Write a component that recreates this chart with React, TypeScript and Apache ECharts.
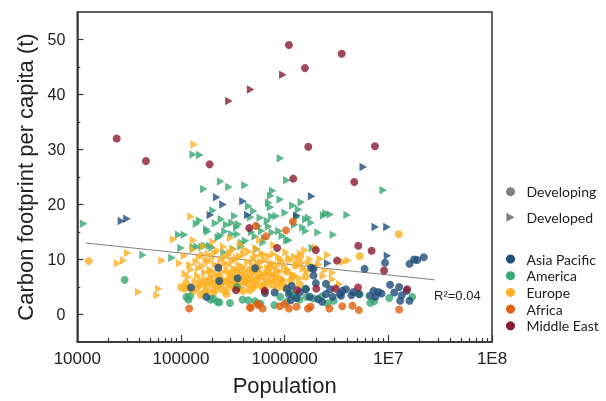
import React, { useEffect, useRef } from 'react';
import * as echarts from 'echarts';

// ---- data: [population, carbon footprint per capita (t)] ----
const europeDeveloped: [number, number][] = [
  [24500, 9.3], [28000, 9.8], [30600, 11.2], [39100, 4.1], [61000, 4.7], [58700, 3.5], [65600, 9.8], [85000, 13.7],
  [97000, 9.3], [108000, 10.7], [132000, 13.5], [125000, 17.8], [134000, 30.9],
  [110000, 7.4], [118000, 6.8], [125000, 8.2], [130000, 11.8], [140000, 9.6], [145000, 7.1], [150000, 10.4], [155000, 6.3],
  [160000, 8.8], [165000, 12.4], [170000, 7.7], [175000, 9.9], [180000, 5.6], [185000, 11.0], [190000, 8.1], [195000, 6.9],
  [200000, 10.2], [205000, 13.2], [210000, 7.4], [215000, 9.1], [220000, 5.9], [225000, 11.6], [232000, 8.5], [238000, 6.6],
  [245000, 10.0], [250000, 7.8], [258000, 12.3], [265000, 9.4], [272000, 6.2], [280000, 8.0], [288000, 10.8], [295000, 7.2],
  [302000, 5.4], [310000, 9.7], [318000, 11.9], [325000, 8.3], [335000, 6.8], [345000, 10.3], [355000, 7.5], [365000, 9.0],
  [375000, 12.8], [385000, 6.1], [395000, 8.7], [405000, 10.9], [415000, 7.0], [425000, 5.8], [440000, 9.5], [455000, 11.4],
  [470000, 8.2], [485000, 6.5], [500000, 10.1], [515000, 7.6], [530000, 12.0], [548000, 9.2], [565000, 6.9], [585000, 8.6],
  [605000, 11.1], [625000, 7.3], [645000, 9.9], [665000, 5.9], [690000, 8.4], [715000, 10.6], [740000, 7.1], [765000, 9.3],
  [790000, 12.6], [820000, 6.7], [850000, 8.9], [880000, 10.4], [910000, 7.8], [950000, 9.6], [990000, 6.3], [1030000, 11.3],
  [1080000, 8.1], [1130000, 9.8], [1190000, 7.2], [1250000, 10.5], [1320000, 8.8], [1400000, 6.6], [1480000, 9.4],
  [1570000, 11.7], [1660000, 7.9], [1760000, 10.0], [1880000, 8.5], [2000000, 12.2], [2150000, 9.1], [2350000, 7.0],
  [2600000, 10.8], [2900000, 6.4], [2900000, 7.6], [3400000, 5.5], [3700000, 9.6], [4100000, 9.8], [578000, 13.5],
  [300000, 13.9], [1420000, 11.1],
  [122000, 9.0], [137000, 6.0], [148000, 8.4], [162000, 10.9], [172000, 6.5], [183000, 9.5], [198000, 7.9], [212000, 11.2],
  [228000, 6.9], [242000, 8.9], [255000, 5.6], [268000, 10.5], [285000, 9.0], [298000, 11.3], [315000, 6.1], [330000, 9.9],
  [350000, 8.1], [370000, 10.6], [390000, 7.1], [410000, 11.8], [432000, 8.0], [462000, 6.4], [492000, 9.0], [525000, 10.7],
  [555000, 7.9], [595000, 9.6], [635000, 10.8], [675000, 7.4], [730000, 9.0], [780000, 11.0], [840000, 8.0], [920000, 10.0],
  [1000000, 8.7], [1100000, 10.3], [1220000, 6.9], [1350000, 9.9], [1520000, 8.3], [1700000, 9.3], [2200000, 10.1],
  [2450000, 8.0],
];
const europeDeveloping: [number, number][] = [
  [12900, 9.7], [100000, 5.0], [108000, 4.7], [118000, 5.0], [130000, 4.2], [142000, 4.8], [155000, 3.6], [165000, 5.6],
  [178000, 4.4], [190000, 6.2], [205000, 3.9], [218000, 5.2], [232000, 7.0], [248000, 4.6], [262000, 6.0], [275000, 3.7],
  [290000, 5.5], [305000, 7.4], [322000, 4.8], [340000, 6.4], [358000, 5.1], [378000, 8.1], [398000, 4.3], [420000, 6.8],
  [445000, 5.6], [470000, 7.5], [495000, 4.9], [520000, 6.2], [550000, 8.3], [580000, 5.3], [610000, 7.0], [645000, 4.6],
  [680000, 6.0], [720000, 8.6], [760000, 5.4], [805000, 7.2], [850000, 4.8], [900000, 6.5], [960000, 5.7], [1050000, 7.8],
  [1150000, 6.1], [1270000, 9.0], [1400000, 5.5], [1600000, 6.9], [1900000, 8.6], [5300000, 10.6], [12600000, 14.6],
  [1420000, 10.6],
  [112000, 5.7], [148000, 5.3], [170000, 4.1], [196000, 5.6], [212000, 4.5], [240000, 5.8], [268000, 4.3], [298000, 6.4],
  [330000, 5.4], [365000, 4.7], [410000, 5.9], [460000, 4.4], [510000, 5.5], [560000, 6.7], [620000, 5.0], [700000, 7.6],
  [780000, 6.4], [870000, 5.9], [1000000, 4.9], [1200000, 7.0],
];
const americaDeveloped: [number, number][] = [
  [11500, 16.5], [43000, 10.8], [81800, 10.3], [95000, 14.5], [108000, 14.5], [100000, 12.1], [131000, 29.1], [152000, 29.0],
  [141000, 16.5], [151000, 17.1], [166000, 22.8], [204000, 18.9], [132000, 12.2], [143000, 12.3], [171000, 12.5],
  [190000, 12.5], [181000, 15.1], [241000, 24.2], [290000, 23.2], [414000, 23.5], [766000, 22.5], [733000, 21.6],
  [910000, 28.4], [1050000, 24.4], [906000, 20.9], [702000, 20.3], [1450000, 20.4], [450000, 19.7], [503000, 18.8],
  [727000, 19.5], [1360000, 19.1], [1310000, 17.7], [753000, 17.8], [830000, 17.9], [1010000, 18.5], [582000, 17.6],
  [2380000, 18.0], [2750000, 18.2], [4000000, 18.1], [8930000, 22.6], [245000, 17.3], [310000, 16.7], [360000, 16.4],
  [680000, 17.0], [1600000, 17.3], [470000, 17.7], [177000, 15.5], [229000, 14.0], [275000, 16.3], [310000, 14.6],
  [345000, 15.9], [420000, 13.4], [480000, 15.0], [600000, 15.2], [640000, 13.8], [880000, 15.2], [1100000, 13.5],
  [160000, 12.3], [200000, 12.2], [260000, 11.3], [320000, 11.9], [240000, 14.3], [350000, 14.6], [540000, 11.9],
  [620000, 13.1], [1600000, 15.2], [1850000, 12.1], [2950000, 14.5], [1700000, 17.6], [1800000, 16.7], [1500000, 15.8],
  [2500000, 18.4], [760000, 14.9], [1050000, 13.5], [390000, 13.0], [560000, 16.1],
  [215000, 16.6], [265000, 15.1], [330000, 17.9], [380000, 12.4], [520000, 14.2], [700000, 16.0], [950000, 14.3],
  [1250000, 16.3], [2100000, 14.9], [1200000, 19.8],
];
const americaDeveloping: [number, number][] = [
  [28600, 6.3], [113000, 3.2], [118000, 2.7], [122000, 3.3], [193000, 2.7], [234000, 2.2], [297000, 2.1], [393000, 2.7],
  [445000, 2.6], [518000, 2.4], [795000, 1.7], [225000, 2.3], [583000, 2.0], [908000, 3.2], [1390000, 2.7], [1620000, 3.2],
  [1900000, 2.9], [2300000, 3.3], [2970000, 2.5], [1150000, 3.9], [1580000, 4.7], [6700000, 2.1], [7300000, 2.4],
  [10200000, 3.0], [17000000, 3.2], [5300000, 3.7], [346000, 5.0], [204000, 2.9], [1050000, 2.3], [1250000, 3.4],
  [2600000, 2.0],
];
const asiaDeveloped: [number, number][] = [
  [26600, 17.0], [30100, 17.4], [221000, 21.3], [192000, 18.1], [254000, 20.0], [396000, 20.6], [440000, 18.1],
  [1310000, 18.0], [1820000, 21.5], [5730000, 26.8], [7480000, 15.9], [9700000, 15.9], [9800000, 10.7], [2600000, 9.3],
];
const asiaDeveloping: [number, number][] = [
  [125000, 4.9], [176000, 3.2], [229000, 8.5], [518000, 8.4], [352000, 6.6], [234000, 6.1], [646000, 3.9], [1050000, 4.7],
  [1170000, 5.2], [1410000, 4.1], [1610000, 4.6], [1100000, 3.7], [1750000, 3.2], [2100000, 2.8], [2500000, 3.7],
  [2740000, 4.6], [2900000, 3.2], [3400000, 3.7], [3900000, 4.6], [4600000, 4.1], [1900000, 7.1], [2500000, 5.6],
  [2000000, 5.7], [1800000, 8.5], [5900000, 8.3], [9300000, 9.4], [16000000, 9.2], [17700000, 10.0], [19000000, 9.9],
  [22000000, 10.4], [10400000, 5.4], [7200000, 4.3], [8000000, 4.1], [8600000, 3.8], [6600000, 3.4], [7500000, 3.2],
  [11400000, 4.0], [12700000, 5.0], [13000000, 2.5], [16000000, 2.5], [5200000, 3.7], [4400000, 3.5], [3500000, 3.4],
  [3600000, 4.3], [1900000, 8.3], [1150000, 2.6], [1300000, 3.0], [2300000, 2.3], [800000, 4.0], [13500000, 3.5],
  [15000000, 4.3],
];
const africaDeveloping: [number, number][] = [
  [120000, 1.1], [1200000, 16.9], [528000, 16.1], [1030000, 15.3], [660000, 14.2], [470000, 1.2], [545000, 1.9],
  [613000, 1.1], [1000000, 1.9], [1100000, 1.1], [463000, 1.3], [560000, 1.7], [1300000, 1.4], [1680000, 1.1],
  [1780000, 1.4], [3600000, 1.5], [4500000, 1.6], [5200000, 0.8], [2700000, 1.1], [12700000, 0.9], [900000, 1.5],
];
const middleEastDeveloping: [number, number][] = [
  [24000, 32.0], [45900, 27.9], [189000, 27.3], [1100000, 49.0], [3550000, 47.4], [1570000, 44.8], [1690000, 30.5],
  [7430000, 30.6], [1210000, 24.7], [4690000, 24.1], [455000, 15.7], [847000, 12.1], [2000000, 11.7], [5130000, 12.5],
  [6900000, 11.6], [3200000, 9.8], [9100000, 8.0], [15200000, 4.6], [5100000, 4.9], [3100000, 4.7], [641000, 4.3],
  [340000, 4.4], [2020000, 4.7], [1320000, 4.4],
];
const middleEastDeveloped: [number, number][] = [[290000, 38.8], [470000, 40.9], [960000, 43.6]];

const trendX = [12100, 28000000];
const trendY = [13.0, 6.3];

const yTickValues = [0, 10, 20, 30, 40, 50];
const yMinorTicks = [5, 15, 25, 35, 45];
const xMinorMultipliers = [2, 3, 4, 5, 6, 7, 8, 9];
const xDecades = [4, 5, 6, 7];

const regions = ['Asia Pacific', 'America', 'Europe', 'Africa', 'Middle East'];
const regionColors: Record<string, string> = {
  'Asia Pacific': '#1F4E79',
  America: '#36A873',
  Europe: '#FDB022',
  Africa: '#E0600F',
  'Middle East': '#8B1A2F',
};

const TRI = 'path://M0,0L10,5.5L0,11Z';
const AXIS_FONT = '"Liberation Sans", Arial, sans-serif';
const LEGEND_FONT = 'Lato, "Open Sans", sans-serif';

function scatter(name: string, data: [number, number][], shape: 'circle' | 'tri') {
  return {
    type: 'scatter',
    name,
    data,
    xAxisIndex: 0,
    yAxisIndex: 0,
    symbol: shape === 'tri' ? TRI : 'circle',
    symbolSize: shape === 'tri' ? [7.5, 8.5] : 8,
    itemStyle: { color: regionColors[name], opacity: 0.8 },
    emphasis: { disabled: true },
  };
}

export default function App() {
  const ref = useRef<HTMLDivElement>(null);
  useEffect(() => {
    if (!ref.current) return;
    const chart = echarts.init(ref.current, null, { renderer: 'svg' });
    const minorX: number[] = [];
    xDecades.forEach((d) => xMinorMultipliers.forEach((m) => minorX.push(d + Math.log10(m))));

    const option: any = {
      animation: false,
      grid: {
        left: 77.3,
        right: 114,
        top: 12,
        bottom: 55.3,
        show: true,
        borderColor: '#333',
        borderWidth: 1.5,
      },
      xAxis: [
        {
          type: 'log',
          logBase: 10,
          min: 10000,
          max: 100000000,
          position: 'bottom',
          name: 'Population',
          nameLocation: 'middle',
          nameGap: 32,
          nameTextStyle: { fontSize: 22, fontFamily: AXIS_FONT, color: '#222' },
          axisLine: { show: true, onZero: false, lineStyle: { color: '#333', width: 1.5 } },
          axisTick: { show: true, inside: true, length: 7, lineStyle: { color: '#333', width: 1.2 } },
          axisLabel: {
            fontSize: 17,
            fontFamily: AXIS_FONT,
            color: '#222',
            margin: 8,
            formatter: (v: number) => {
              const e = Math.round(Math.log10(v));
              return e >= 7 ? '1E' + e : String(Math.pow(10, e));
            },
          },
          splitLine: { show: false },
        },
        {
          type: 'value',
          min: 4,
          max: 8,
          position: 'bottom',
          axisLine: { show: false, onZero: false },
          axisLabel: { show: false },
          axisTick: { show: true, inside: true, length: 4, customValues: minorX, lineStyle: { color: '#333', width: 1.2 } },
          splitLine: { show: false },
        },
      ],
      yAxis: [
        {
          type: 'value',
          min: -5,
          max: 55,
          position: 'left',
          name: 'Carbon footprint per capita (t)',
          nameLocation: 'middle',
          nameGap: 39,
          nameTextStyle: { fontSize: 22, fontFamily: AXIS_FONT, color: '#222' },
          axisLine: { show: true, onZero: false, lineStyle: { color: '#333', width: 1.5 } },
          axisTick: { show: true, inside: true, length: 6, customValues: yTickValues, lineStyle: { color: '#333', width: 1.2 } },
          axisLabel: { fontSize: 16, fontFamily: AXIS_FONT, color: '#222', margin: 12, customValues: yTickValues },
          splitLine: { show: false },
        },
        {
          type: 'value',
          min: -5,
          max: 55,
          position: 'left',
          axisLine: { show: false, onZero: false },
          axisLabel: { show: false },
          axisTick: { show: true, inside: true, length: 3, customValues: yMinorTicks, lineStyle: { color: '#333', width: 1.2 } },
          splitLine: { show: false },
        },
      ],
      legend: [
        {
          orient: 'vertical',
          left: 506,
          top: 184.7,
          padding: 0,
          itemWidth: 22,
          itemHeight: 9,
          itemGap: 11.6,
          selectedMode: false,
          itemStyle: { opacity: 1 },
          textStyle: { fontSize: 14, fontFamily: LEGEND_FONT, color: '#222' },
          data: [
            { name: 'Developing', icon: 'circle' },
            { name: 'Developed', icon: TRI },
          ],
        },
        {
          orient: 'vertical',
          left: 506,
          top: 252,
          padding: 0,
          itemWidth: 22,
          itemHeight: 9,
          itemGap: 2.7,
          selectedMode: false,
          itemStyle: { opacity: 1 },
          textStyle: { fontSize: 14, fontFamily: LEGEND_FONT, color: '#222' },
          data: regions.map((r) => ({ name: r, icon: 'circle' })),
        },
      ],
      graphic: [
        {
          type: 'text',
          left: 434,
          top: 289,
          style: { text: 'R²=0.04', fontSize: 13, fontFamily: AXIS_FONT, fill: '#222' },
        },
      ],
      series: [
        { type: 'scatter', name: 'Developing', data: [], symbol: 'circle', itemStyle: { color: '#808080' } },
        { type: 'scatter', name: 'Developed', data: [], symbol: TRI, itemStyle: { color: '#808080' } },
        {
          type: 'line',
          name: 'trend',
          data: trendX.map((x, i) => [x, trendY[i]]),
          showSymbol: false,
          symbol: 'none',
          silent: true,
          lineStyle: { color: '#808080', width: 1 },
          z: 1,
        },
        scatter('America', americaDeveloped, 'tri'),
        scatter('Europe', europeDeveloped, 'tri'),
        scatter('Asia Pacific', asiaDeveloped, 'tri'),
        scatter('Middle East', middleEastDeveloped, 'tri'),
        scatter('Europe', europeDeveloping, 'circle'),
        scatter('America', americaDeveloping, 'circle'),
        scatter('Asia Pacific', asiaDeveloping, 'circle'),
        scatter('Africa', africaDeveloping, 'circle'),
        scatter('Middle East', middleEastDeveloping, 'circle'),
      ],
    };
    chart.setOption(option);
    return () => chart.dispose();
  }, []);
  return <div ref={ref} style={{ position: 'fixed', left: 0, top: 0, width: 606, height: 401 }} />;
}
